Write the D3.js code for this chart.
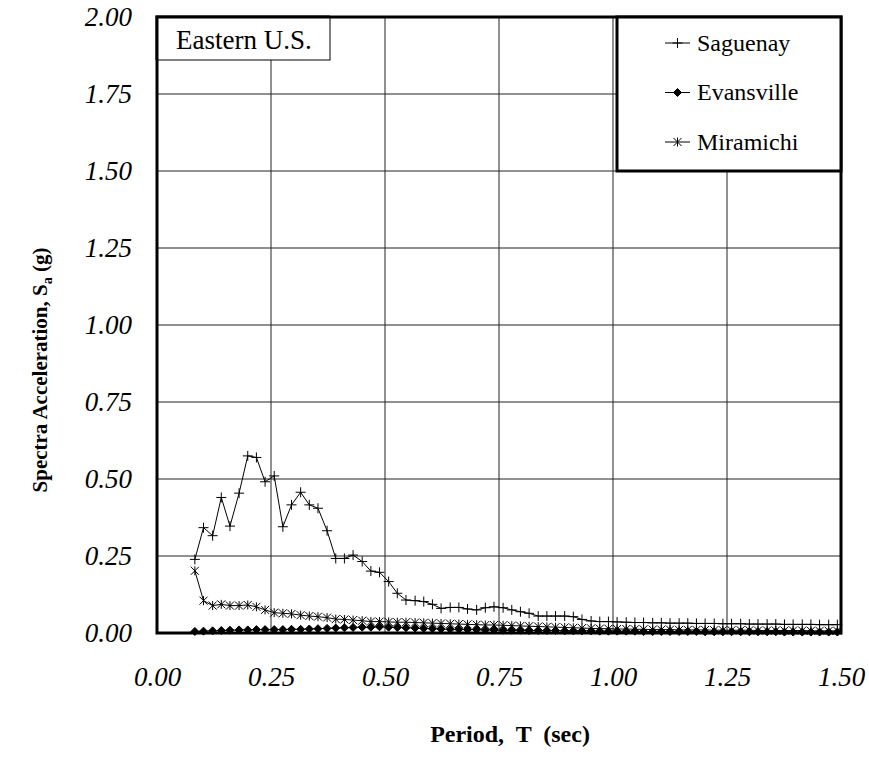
<!DOCTYPE html>
<html>
<head>
<meta charset="utf-8">
<script src="https://cdn.jsdelivr.net/npm/d3@7/dist/d3.min.js"></script>
<style>
  html, body { margin: 0; padding: 0; background: #fff; }
  svg { display: block; }
  svg text { font-family: "Times New Roman", "Liberation Serif", Times, serif; }
</style>
</head>
<body>
<svg id="chart" width="869" height="757"></svg>
<script>
// Response spectra, periods in seconds
const periods = [0.083, 0.102, 0.122, 0.141, 0.160, 0.180, 0.199, 0.218, 0.237, 0.257,
  0.276, 0.295, 0.315, 0.334, 0.353, 0.373, 0.392, 0.411, 0.430, 0.450,
  0.469, 0.488, 0.508, 0.527, 0.546, 0.566, 0.585, 0.604, 0.623, 0.643,
  0.662, 0.681, 0.701, 0.720, 0.739, 0.759, 0.778, 0.797, 0.816, 0.836,
  0.855, 0.874, 0.894, 0.913, 0.932, 0.952, 0.971, 0.990, 1.009, 1.029,
  1.048, 1.067, 1.087, 1.106, 1.125, 1.145, 1.164, 1.183, 1.202, 1.222,
  1.241, 1.260, 1.280, 1.299, 1.318, 1.338, 1.357, 1.376, 1.395, 1.415,
  1.434, 1.453, 1.473, 1.492];

const saguenay = [0.239, 0.342, 0.316, 0.440, 0.347, 0.454, 0.575, 0.570, 0.491, 0.510,
  0.345, 0.416, 0.457, 0.416, 0.405, 0.332, 0.242, 0.242, 0.253, 0.232,
  0.201, 0.197, 0.167, 0.129, 0.107, 0.105, 0.102, 0.093, 0.080, 0.083,
  0.083, 0.078, 0.075, 0.082, 0.085, 0.082, 0.075, 0.069, 0.064, 0.055,
  0.055, 0.055, 0.055, 0.053, 0.044, 0.039, 0.037, 0.037, 0.036, 0.035,
  0.034, 0.034, 0.033, 0.033, 0.032, 0.032, 0.032, 0.031, 0.031, 0.031,
  0.030, 0.030, 0.030, 0.029, 0.029, 0.029, 0.029, 0.028, 0.028, 0.028,
  0.028, 0.027, 0.027, 0.027];

const evansville = [0.005, 0.006, 0.007, 0.008, 0.009, 0.010, 0.010, 0.011, 0.011, 0.011,
  0.011, 0.012, 0.012, 0.013, 0.014, 0.015, 0.016, 0.017, 0.018, 0.019,
  0.019, 0.020, 0.019, 0.018, 0.017, 0.016, 0.015, 0.014, 0.013, 0.012,
  0.012, 0.011, 0.011, 0.010, 0.010, 0.009, 0.009, 0.009, 0.008, 0.008,
  0.008, 0.008, 0.007, 0.007, 0.007, 0.007, 0.006, 0.006, 0.006, 0.006,
  0.006, 0.005, 0.005, 0.005, 0.005, 0.005, 0.005, 0.005, 0.004, 0.004,
  0.004, 0.004, 0.004, 0.004, 0.004, 0.004, 0.004, 0.003, 0.003, 0.003,
  0.003, 0.003, 0.003, 0.003];

const miramichi = [0.202, 0.105, 0.089, 0.093, 0.089, 0.089, 0.091, 0.085, 0.075, 0.066,
  0.064, 0.062, 0.058, 0.055, 0.053, 0.050, 0.045, 0.044, 0.042, 0.040,
  0.037, 0.037, 0.036, 0.035, 0.035, 0.034, 0.033, 0.032, 0.031, 0.030,
  0.029, 0.028, 0.027, 0.026, 0.026, 0.025, 0.024, 0.023, 0.022, 0.021,
  0.020, 0.019, 0.018, 0.017, 0.016, 0.015, 0.014, 0.014, 0.013, 0.013,
  0.012, 0.012, 0.011, 0.011, 0.011, 0.010, 0.010, 0.010, 0.010, 0.009,
  0.009, 0.009, 0.009, 0.009, 0.008, 0.008, 0.008, 0.008, 0.008, 0.008,
  0.007, 0.007, 0.007, 0.007];

const xTicks = [0, 0.25, 0.5, 0.75, 1.0, 1.25, 1.5];
const yTicks = [0, 0.25, 0.5, 0.75, 1.0, 1.25, 1.5, 1.75, 2.0];
const seriesNames = ["Saguenay", "Evansville", "Miramichi"];
const seriesValues = [saguenay, evansville, miramichi];
const seriesMarkers = ["plus", "diamond", "star"];
const regionLabel = "Eastern U.S.";

const SERIF = "'Times New Roman', 'Liberation Serif', Times, serif";
const svg = d3.select("#chart");
const margin = { left: 157, right: 28, top: 17, bottom: 124 };
const W = 869, H = 757;
const x = d3.scaleLinear().domain([0, 1.5]).range([margin.left, W - margin.right]);
const y = d3.scaleLinear().domain([0, 2]).range([H - margin.bottom, margin.top]);

// grid lines
const grid = svg.append("g");
grid.selectAll("line.vx").data(xTicks).join("line")
  .attr("x1", d => x(d)).attr("x2", d => x(d))
  .attr("y1", y(0)).attr("y2", y(2))
  .attr("stroke", "#222").attr("stroke-width", 1);
grid.selectAll("line.hy").data(yTicks).join("line")
  .attr("x1", x(0)).attr("x2", x(1.5))
  .attr("y1", d => y(d)).attr("y2", d => y(d))
  .attr("stroke", "#222").attr("stroke-width", 1);

// axes (labels only, italic)
const fmt = d3.format(".2f");
const xAxis = d3.axisBottom(x).tickValues(xTicks).tickFormat(fmt).tickSize(0).tickPadding(34);
const yAxis = d3.axisLeft(y).tickValues(yTicks).tickFormat(fmt).tickSize(0).tickPadding(25);
const gx = svg.append("g").attr("transform", `translate(0,${y(0)})`).call(xAxis);
const gy = svg.append("g").attr("transform", `translate(${x(0)},0)`).call(yAxis);
[gx, gy].forEach(g => {
  g.attr("font-family", SERIF);
  g.select(".domain").remove();
  g.selectAll("text")
    .style("font-family", SERIF)
    .attr("font-style", "italic")
    .attr("font-size", 27)
    .attr("fill", "#000");
});
gx.selectAll("text").attr("dy", "0.71em");

// series
const markerPath = {
  plus: "M-5,0H5M0,-5V5",
  diamond: "M0,-4L4,0L0,4L-4,0Z",
  star: "M-4,-4L4,4M-4,4L4,-4M0,-4.5V4.5"
};
const line = d3.line().x((d, i) => x(periods[i])).y(d => y(d));
const plot = svg.append("g");
seriesValues.forEach((vals, k) => {
  plot.append("path").datum(vals)
    .attr("d", line).attr("fill", "none")
    .attr("stroke", "#000").attr("stroke-width", 1);
  plot.selectAll(null).data(vals).join("path")
    .attr("transform", (d, i) => `translate(${x(periods[i])},${y(d)})`)
    .attr("d", markerPath[seriesMarkers[k]])
    .attr("fill", seriesMarkers[k] === "diamond" ? "#000" : "none")
    .attr("stroke", "#000").attr("stroke-width", 1);
});

// plot frame
svg.append("rect")
  .attr("x", x(0)).attr("y", y(2))
  .attr("width", x(1.5) - x(0)).attr("height", y(0) - y(2))
  .attr("fill", "none").attr("stroke", "#000").attr("stroke-width", 3);

// region label box
svg.append("rect")
  .attr("x", x(0)).attr("y", y(2))
  .attr("width", 173).attr("height", 43)
  .attr("fill", "#fff").attr("stroke", "#000").attr("stroke-width", 1);
svg.append("path")
  .attr("d", `M${x(0)},${y(2) + 43}V${y(2)}H${x(0) + 173}`)
  .attr("fill", "none").attr("stroke", "#000").attr("stroke-width", 3);
svg.append("text")
  .attr("x", x(0) + 19).attr("y", y(2) + 32)
  .style("font-family", SERIF)
  .attr("font-size", 27).text(regionLabel);

// legend
const lg = svg.append("g");
lg.append("rect")
  .attr("x", 617).attr("y", y(2))
  .attr("width", x(1.5) - 617).attr("height", 154)
  .attr("fill", "#fff").attr("stroke", "#000").attr("stroke-width", 3);
seriesNames.forEach((name, k) => {
  const cy = 43 + k * 49.5;
  lg.append("line").attr("x1", 665).attr("x2", 690).attr("y1", cy).attr("y2", cy)
    .attr("stroke", "#000").attr("stroke-width", 1);
  lg.append("path").attr("transform", `translate(677.5,${cy})`)
    .attr("d", markerPath[seriesMarkers[k]])
    .attr("fill", seriesMarkers[k] === "diamond" ? "#000" : "none")
    .attr("stroke", "#000").attr("stroke-width", 1);
  lg.append("text").attr("x", 697).attr("y", cy).attr("dy", "0.33em")
    .style("font-family", SERIF)
    .attr("font-size", 24).text(name);
});

// axis titles
svg.append("text")
  .attr("x", 510).attr("y", 742)
  .attr("text-anchor", "middle").attr("font-weight", "bold").attr("font-size", 24)
  .style("font-family", SERIF)
  .style("white-space", "pre")
  .text("Period,  T  (sec)");
const yt = svg.append("text")
  .attr("transform", `translate(47,370) rotate(-90)`)
  .attr("text-anchor", "middle").attr("font-weight", "bold").attr("font-size", 21)
  .style("font-family", SERIF);
yt.append("tspan").text("Spectra Acceleration, S");
yt.append("tspan").attr("font-size", 14).attr("dy", 5).text("a");
yt.append("tspan").attr("dy", -5).text(" (g)");
</script>
</body>
</html>
